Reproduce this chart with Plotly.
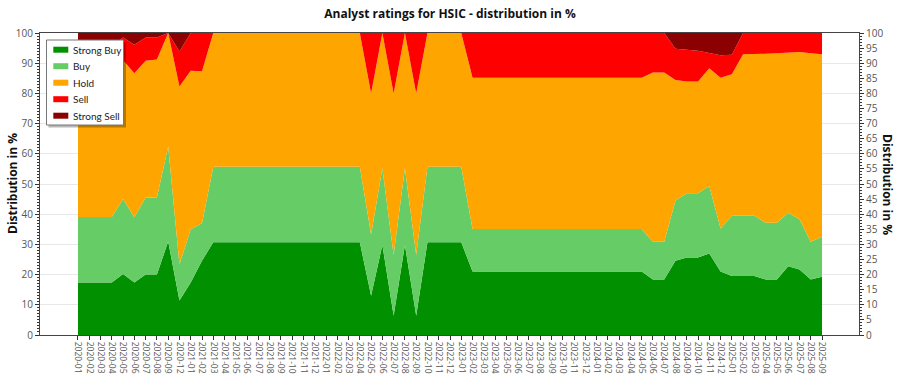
import plotly.graph_objects as go

dates = (["2020-01", "2020-02", "2020-03", "2020-04", "2020-05", "2020-06", "2020-07",
          "2020-08", "2020-09", "2020-12"]
         + [f"2021-{m:02d}" for m in range(1, 13)]
         + [f"2022-{m:02d}" for m in range(1, 13)]
         + [f"2023-{m:02d}" for m in range(1, 13)]
         + [f"2024-{m:02d}" for m in range(1, 13)]
         + [f"2025-{m:02d}" for m in range(1, 10)])

strong_buy = [17.4, 17.4, 17.4, 17.4, 20.2, 17.4, 20.0, 20.0, 31.0, 11.4, 17.4, 24.6,
              30.7, 30.7, 30.7, 30.7, 30.7, 30.7, 30.7, 30.7, 30.7, 30.7, 30.7, 30.7, 30.7, 30.7,
              13.0, 29.8, 6.4, 29.8, 6.4,
              30.7, 30.7, 30.7, 30.7,
              21.0, 21.0, 21.0, 21.0, 21.0, 21.0, 21.0, 21.0, 21.0, 21.0, 21.0, 21.0, 21.0, 21.0, 21.0, 21.0,
              18.4, 18.4, 24.6, 25.7, 25.7, 27.0, 21.0, 19.5, 19.5, 19.5, 18.4, 18.4, 22.8, 21.7, 18.4, 19.3]
buy = [21.7, 21.7, 21.7, 21.7, 24.8, 21.6, 25.5, 25.5, 31.4, 12.0, 17.6, 12.4,
       25.0, 25.0, 25.0, 25.0, 25.0, 25.0, 25.0, 25.0, 25.0, 25.0, 25.0, 25.0, 25.0, 25.0,
       20.3, 25.4, 20.1, 25.4, 20.1,
       25.0, 25.0, 25.0, 25.0,
       14.1, 14.1, 14.1, 14.1, 14.1, 14.1, 14.1, 14.1, 14.1, 14.1, 14.1, 14.1, 14.1, 14.1, 14.1, 14.1,
       12.5, 12.5, 19.9, 21.2, 21.2, 22.3, 14.3, 20.0, 20.0, 20.0, 18.8, 18.8, 17.7, 16.6, 12.5, 13.2]
hold = [56.6, 56.6, 56.6, 56.6, 46.0, 47.7, 45.3, 45.7, 37.6, 58.9, 52.5, 50.3,
        44.3, 44.3, 44.3, 44.3, 44.3, 44.3, 44.3, 44.3, 44.3, 44.3, 44.3, 44.3, 44.3, 44.3,
        46.7, 44.8, 53.5, 44.8, 53.5,
        44.3, 44.3, 44.3, 44.3,
        50.1, 50.1, 50.1, 50.1, 50.1, 50.1, 50.1, 50.1, 50.1, 50.1, 50.1, 50.1, 50.1, 50.1, 50.1, 50.1,
        56.0, 56.0, 39.9, 37.0, 37.0, 39.0, 49.9, 46.8, 53.5, 53.5, 55.9, 56.1, 53.0, 55.4, 62.4, 60.5]
sell = [0.0, 0.0, 0.0, 0.0, 7.5, 9.4, 7.7, 7.3, 0.0, 11.6, 12.5, 12.7,
        0, 0, 0, 0, 0, 0, 0, 0, 0, 0, 0, 0, 0, 0,
        20.0, 0.0, 20.0, 0.0, 20.0,
        0, 0, 0, 0,
        14.8, 14.8, 14.8, 14.8, 14.8, 14.8, 14.8, 14.8, 14.8, 14.8, 14.8, 14.8, 14.8, 14.8, 14.8, 14.8,
        13.1, 13.1, 10.4, 10.6, 10.2, 5.1, 7.4, 6.5, 7.0, 7.0, 6.9, 6.7, 6.5, 6.3, 6.7, 7.0]
strong_sell = [4.3, 4.3, 4.3, 4.3, 1.5, 3.9, 1.5, 1.5, 0.0, 6.1, 0.0, 0.0,
               0, 0, 0, 0, 0, 0, 0, 0, 0, 0, 0, 0, 0, 0,
               0, 0, 0, 0, 0,
               0, 0, 0, 0,
               0, 0, 0, 0, 0, 0, 0, 0, 0, 0, 0, 0, 0, 0, 0, 0,
               0.0, 0.0, 5.2, 5.5, 5.9, 6.6, 7.4, 7.2, 0, 0, 0, 0, 0, 0, 0, 0]

series_names = ["Strong Buy", "Buy", "Hold", "Sell", "Strong Sell"]
series_values = [strong_buy, buy, hold, sell, strong_sell]
series_colors = ["#009000", "#66cc66", "#ffa500", "#ff0000", "#8b0000"]

FONT = "Open Sans"
LEGEND_FONT = "Lato"
W, H = 900, 375
ML, MR, MT, MB = 40, 41, 33, 40
PW, PH = W - ML - MR, H - MT - MB


def px(x):  # pixel x -> paper x
    return (x - ML) / PW


def py(y):  # pixel y -> paper y
    return (H - MB - y) / PH


fig = go.Figure()
for name, vals, col in zip(series_names, series_values, series_colors):
    fig.add_trace(go.Scatter(
        x=dates, y=vals, name=name, mode="lines", stackgroup="one",
        line=dict(width=0, color=col), fillcolor=col, showlegend=False,
    ))

# invisible trace to anchor the right axis
fig.add_trace(go.Scatter(x=[dates[0]], y=[0], yaxis="y2", mode="markers",
                         marker=dict(opacity=0), showlegend=False, hoverinfo="skip"))

# legend box (drawn as layout shapes + text)
shapes = [
    dict(type="rect", xref="paper", yref="paper", x0=px(48.5), x1=px(126), y0=py(127.5), y1=py(42.5),
         fillcolor="rgba(0,0,0,0.28)", line=dict(width=0), layer="above"),
    dict(type="rect", xref="paper", yref="paper", x0=px(46.5), x1=px(123.5), y0=py(125), y1=py(40),
         fillcolor="white", line=dict(color="#777", width=1), layer="above"),
]
annotations = []
for k, (name, col) in enumerate(zip(series_names, series_colors)):
    cy = 49.7 + 16.5 * k
    shapes.append(dict(type="rect", xref="paper", yref="paper", x0=px(53.3), x1=px(68.3),
                       y0=py(cy + 3), y1=py(cy - 3), fillcolor=col, line=dict(width=0), layer="above"))
    annotations.append(dict(text=name, xref="paper", yref="paper", x=px(71), y=py(cy),
                            xanchor="left", yanchor="middle", showarrow=False,
                            font=dict(family=LEGEND_FONT, size=10, color="#222")))

annotations += [
    dict(text="<b>Distribution in %</b>", xref="paper", yref="paper",
         x=px(12), y=0.5, textangle=-90, showarrow=False,
         xanchor="center", yanchor="middle",
         font=dict(family=FONT, size=12, color="#111")),
    dict(text="<b>Distribution in %</b>", xref="paper", yref="paper",
         x=px(888), y=0.5, textangle=90, showarrow=False,
         xanchor="center", yanchor="middle",
         font=dict(family=FONT, size=12, color="#111")),
]

n = len(dates)
fig.update_layout(
    width=W, height=H,
    margin=dict(l=ML, r=MR, t=MT, b=MB),
    paper_bgcolor="white", plot_bgcolor="white",
    font=dict(family=FONT, size=10, color="#333"),
    title=dict(text="<b>Analyst ratings for HSIC - distribution in %</b>",
               x=0.5, xanchor="center", y=1 - 14 / H, yanchor="middle",
               font=dict(family=FONT, size=12, color="#111")),
    showlegend=False,
    shapes=shapes,
    annotations=annotations,
    xaxis=dict(type="category", range=[-3.37, n - 1 + 3.28], automargin=False,
               tickmode="array", tickvals=dates, ticktext=dates,
               tickangle=90, tickfont=dict(family=FONT, size=8.5, color="#555"),
               ticks="outside", ticklen=4, tickcolor="#333",
               showline=True, linecolor="#444", linewidth=1, mirror=True,
               showgrid=False, zeroline=False),
    yaxis=dict(range=[0, 100], dtick=10, tick0=0, automargin=False,
               ticks="outside", ticklen=4, tickcolor="#333",
               tickfont=dict(size=10, color="#555"),
               minor=dict(dtick=1, ticks="outside", ticklen=2, tickcolor="#333", showgrid=False),
               showline=True, linecolor="#444", linewidth=1,
               showgrid=True, gridcolor="#e8e8e8", gridwidth=1, zeroline=False),
    yaxis2=dict(range=[0, 100], dtick=5, tick0=0, overlaying="y", side="right", automargin=False,
                ticks="outside", ticklen=4, tickcolor="#333",
                tickfont=dict(size=10, color="#555"),
                minor=dict(dtick=1, ticks="outside", ticklen=2, tickcolor="#333", showgrid=False),
                showline=True, linecolor="#444", linewidth=1,
                showgrid=False, zeroline=False),
)

fig.write_html("out.html")
